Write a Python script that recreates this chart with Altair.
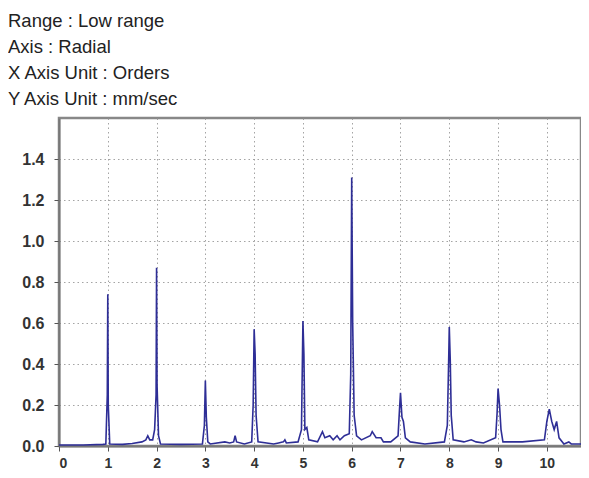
import altair as alt
import pandas as pd

title_lines = ["Range : Low range", "Axis : Radial", "X Axis Unit : Orders", "Y Axis Unit : mm/sec"]

orders = [0.00, 0.50, 0.90, 0.96, 0.99, 1.00, 1.01, 1.04, 1.30, 1.50, 1.70, 1.78, 1.82, 1.86, 1.92, 1.96,
          1.99, 2.00, 2.01, 2.04, 2.08, 2.50, 2.94, 2.98, 3.00, 3.02, 3.05, 3.10, 3.40, 3.50, 3.58, 3.61,
          3.64, 3.80, 3.95, 3.98, 4.00, 4.02, 4.04, 4.08, 4.40, 4.50, 4.60, 4.63, 4.66, 4.90, 4.97, 5.00,
          5.02, 5.04, 5.08, 5.12, 5.30, 5.40, 5.45, 5.55, 5.62, 5.70, 5.76, 5.85, 5.95, 5.98, 6.00, 6.02,
          6.05, 6.10, 6.20, 6.38, 6.42, 6.50, 6.60, 6.65, 6.80, 6.95, 6.98, 7.00, 7.03, 7.06, 7.10, 7.20,
          7.50, 7.90, 7.96, 7.99, 8.00, 8.02, 8.04, 8.08, 8.30, 8.45, 8.55, 8.70, 8.95, 8.98, 9.00, 9.03,
          9.06, 9.10, 9.50, 9.95, 10.00, 10.05, 10.10, 10.15, 10.20, 10.25, 10.35, 10.45, 10.50, 10.70]
velocity = [0.005, 0.005, 0.008, 0.01, 0.25, 0.74, 0.20, 0.01, 0.008, 0.012, 0.02, 0.03, 0.05, 0.03, 0.03, 0.08,
            0.25, 0.87, 0.30, 0.05, 0.01, 0.008, 0.01, 0.10, 0.32, 0.14, 0.02, 0.01, 0.02, 0.015, 0.02, 0.05,
            0.02, 0.01, 0.02, 0.20, 0.57, 0.45, 0.15, 0.02, 0.01, 0.015, 0.02, 0.03, 0.015, 0.02, 0.08, 0.61,
            0.45, 0.08, 0.09, 0.03, 0.02, 0.07, 0.04, 0.05, 0.03, 0.05, 0.03, 0.05, 0.06, 0.35, 1.31, 0.60,
            0.15, 0.05, 0.03, 0.05, 0.07, 0.04, 0.04, 0.02, 0.02, 0.05, 0.18, 0.26, 0.14, 0.12, 0.04, 0.02,
            0.01, 0.02, 0.10, 0.45, 0.58, 0.42, 0.15, 0.03, 0.02, 0.03, 0.02, 0.015, 0.04, 0.16, 0.28, 0.20,
            0.08, 0.02, 0.02, 0.03, 0.12, 0.18, 0.12, 0.08, 0.12, 0.04, 0.01, 0.02, 0.01, 0.01]

df = pd.DataFrame({"order": orders, "vel": velocity})

x_ticks = list(range(0, 11))
y_ticks = [0.0, 0.2, 0.4, 0.6, 0.8, 1.0, 1.2, 1.4]

axis_common = dict(
    grid=True, gridDash=[1.5, 3], gridColor="#9a9a9a", gridOpacity=0.9,
    labelFont="Liberation Sans", labelFontWeight="bold", labelColor="#333333",
    domainColor="#777777", domainWidth=2, tickColor="#555555", tickSize=5, title=None,
)

chart = alt.Chart(df).mark_line(color="#2e2e96", strokeWidth=1.6).encode(
    x=alt.X("order:Q", scale=alt.Scale(domain=[0, 10.7], nice=False, zero=False),
            axis=alt.Axis(values=x_ticks, format="d", labelPadding=5, labelFontSize=14,
                          **axis_common)),
    y=alt.Y("vel:Q", scale=alt.Scale(domain=[0, 1.6], nice=False),
            axis=alt.Axis(values=y_ticks, format=".1f", labelPadding=10, labelFontSize=16,
                          **axis_common)),
).properties(
    width=522, height=328,
    autosize=alt.AutoSizeParams(type="none"),
    padding={"left": 51, "top": 110, "right": 0, "bottom": 24},
    title=alt.TitleParams(
        text=title_lines, anchor="start", frame="group", dx=-51, offset=10,
        font="Liberation Sans", fontSize=18.5, fontWeight="normal", color="#222222",
        lineHeight=26, orient="top",
    ),
).configure_view(stroke="#888888", strokeWidth=2.5)

chart.save("out.html", embed_options={"renderer": "svg", "actions": False})
